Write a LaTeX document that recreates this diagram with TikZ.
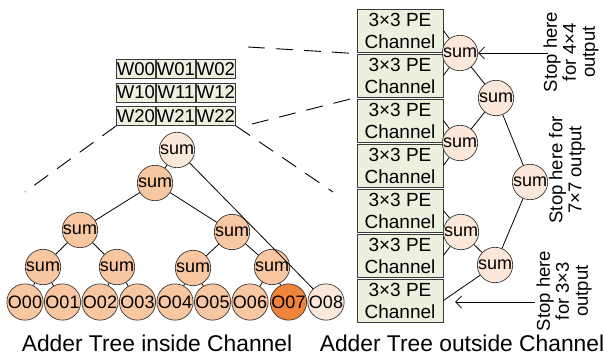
\documentclass[tikz,border=0pt]{standalone}
\usepackage{fontspec}
\setmainfont{Liberation Sans}
\usetikzlibrary{arrows.meta}

\definecolor{boxfill}{HTML}{EBF1DE}
\definecolor{sumfill}{HTML}{F8C6A0}
\definecolor{lightfill}{HTML}{FCE8DA}
\definecolor{hotfill}{HTML}{F0843A}
\definecolor{edgecol}{HTML}{3A3A3A}

\begin{document}
\begin{tikzpicture}[x=1pt,y=-1pt,
  wcell/.style={draw=edgecol, fill=boxfill, line width=0.8pt, minimum width=39pt, minimum height=19pt,
    inner sep=0pt, font=\fontsize{18.5}{18}\selectfont},
  pebox/.style={draw=edgecol, fill=boxfill, line width=0.8pt, minimum width=86pt, minimum height=43pt,
    inner sep=0pt, align=center, font=\fontsize{19}{22}\selectfont},
  adder/.style={circle, draw=edgecol, fill=sumfill, line width=0.7pt, minimum size=34pt, inner sep=0pt,
    font=\fontsize{18}{18}\selectfont},
  lightadder/.style={adder, fill=lightfill},
  hotadder/.style={adder, fill=hotfill},
  wire/.style={draw=black, line width=0.8pt},
  zoomline/.style={draw=black, line width=0.9pt, dash pattern=on 17pt off 11pt},
  stoparrow/.style={draw=black, line width=0.8pt, -{Straight Barb[length=6pt,width=12pt]}},
  stoptext/.style={rotate=90, align=center, font=\fontsize{18.5}{19}\selectfont},
  caption/.style={font=\fontsize{22.8}{24}\selectfont}
]
\useasboundingbox[fill=white] (0,0) rectangle (604,359);

% 3x3 weight grid
\foreach \r in {0,1,2}{
  \foreach \c in {0,1,2}{
    \node[wcell] (w\r\c) at ({136+40*\c},{69+23.5*\r}) {W\r\c};
  }
}

% stack of PE channels
\foreach \i in {1,...,7}{
  \node[pebox] (ch\i) at (400,{30.5+45*(\i-1)}) {3×3 PE\\Channel};
}

% zoom lines from the channel to the weight grid and to the inner tree
\coordinate (zt) at (248,47);
\coordinate (zb) at (252,124);
\coordinate (zl) at (25,192);
\coordinate (zr) at (333,192);
\draw[zoomline] (zt) -- (ch2.north west);
\draw[zoomline] (zb) -- (ch2.south west);
\draw[zoomline] (w20.south west) -- (zl);
\draw[zoomline] (w22.south east) -- (zr);

% adder tree inside a channel
\node[lightadder] (top) at (177,150) {sum};
\node[adder] (l1) at (155,183) {sum};
\node[adder] (l2a) at (80,230) {sum};
\node[adder] (l2b) at (232,232) {sum};
\node[adder] (l3a) at (43,267) {sum};
\node[adder] (l3b) at (117,267) {sum};
\node[adder] (l3c) at (193,268) {sum};
\node[adder] (l3d) at (272,267) {sum};
\foreach \k/\x in {0/25,1/62.5,2/100,3/137.5,4/175,5/212.5,6/250}{
  \node[adder] (o\k) at (\x,302) {O0\k};
}
\node[hotadder] (o7) at (288.5,302) {O07};
\node[lightadder] (o8) at (326,302) {O08};

\draw[wire] (top) -- (l1);
\draw[wire] (top) -- (o8);
\draw[wire] (l1) -- (l2a);
\draw[wire] (l1) -- (l2b);
\draw[wire] (l2a) -- (l3a);
\draw[wire] (l2a) -- (l3b);
\draw[wire] (l2b) -- (l3c);
\draw[wire] (l2b) -- (l3d);
\draw[wire] (l3a) -- (o0);
\draw[wire] (l3a) -- (o1);
\draw[wire] (l3b) -- (o2);
\draw[wire] (l3b) -- (o3);
\draw[wire] (l3c) -- (o4);
\draw[wire] (l3c) -- (o5);
\draw[wire] (l3d) -- (o6);
\draw[wire] (l3d) -- (o7);

% adder tree outside the channels
\node[lightadder] (s1) at (460,53) {sum};
\node[lightadder] (s2) at (496,98) {sum};
\node[lightadder] (s3) at (460,143) {sum};
\node[lightadder] (s4) at (530,182) {sum};
\node[lightadder] (s5) at (461,232) {sum};
\node[lightadder] (s6) at (495,265) {sum};

\draw[wire] (ch1.east) -- (s1);
\draw[wire] (ch2.east) -- (s1);
\draw[wire] (ch3.east) -- (s3);
\draw[wire] (ch4.east) -- (s3);
\draw[wire] (ch5.east) -- (s5);
\draw[wire] (ch6.east) -- (s5);
\draw[wire] (ch7.east) -- (s6);
\draw[wire] (s1) -- (s2);
\draw[wire] (s3) -- (s2);
\draw[wire] (s2) -- (s4);
\draw[wire] (s5) -- (s6);
\draw[wire] (s6) -- (s4);

% early exit points
\node[stoptext] (t44) at (571,52) {Stop here\\for 4×4\\output};
\node[stoptext] (t77) at (567,170) {Stop here for\\7×7 output};
\node[stoptext] (t33) at (564,291) {Stop here\\for 3×3\\output};
\coordinate (a44) at (548,53);
\coordinate (a33s) at (535,302);
\coordinate (a33e) at (455,302);
\draw[stoparrow] (a44) -- (s1);
\draw[stoparrow] (a33s) -- (a33e);

% captions
\node[caption] (cap1) at (157,343) {Adder Tree inside Channel};
\node[caption] (cap2) at (462,343) {Adder Tree outside Channel};
\end{tikzpicture}
\end{document}
